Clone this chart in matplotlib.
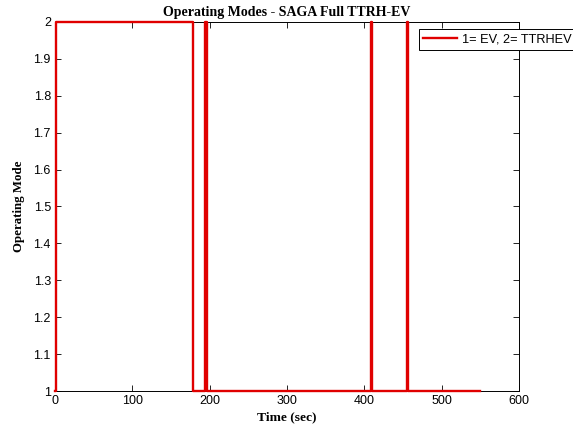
import matplotlib.pyplot as plt
from matplotlib.ticker import FuncFormatter

# mode change points (sec) and the mode held from each point on
times = [0, 1, 178, 194, 196, 409, 410, 455, 456, 550]
modes = [1, 2, 1, 2, 1, 2, 1, 2, 1, 1]

x_ticks = [0, 100, 200, 300, 400, 500, 600]
y_ticks = [1.0, 1.1, 1.2, 1.3, 1.4, 1.5, 1.6, 1.7, 1.8, 1.9, 2.0]

plt.rcParams['font.family'] = ['Liberation Sans', 'DejaVu Sans']

fig = plt.figure(figsize=(5.73, 4.37), dpi=100)
ax = fig.add_axes([0.096, 0.105, 0.81, 0.845])

ax.plot(times, modes, drawstyle='steps-post', color='#e00000', lw=1.7,
        label='1= EV, 2= TTRHEV', clip_on=False, zorder=3)

ax.set_xlim(0, 600)
ax.set_ylim(1, 2)
ax.set_xticks(x_ticks)
ax.set_yticks(y_ticks)
ax.yaxis.set_major_formatter(FuncFormatter(lambda v, p: '%g' % round(v, 1)))
ax.tick_params(direction='in', top=True, right=True, length=4, width=0.6,
               labelsize=9, pad=3)
for s in ax.spines.values():
    s.set_linewidth(0.7)

ax.set_title('Operating Modes - SAGA Full TTRH-EV', family='Liberation Serif',
             fontweight='bold', fontsize=10, pad=4)
ax.set_xlabel('Time (sec)', family='Liberation Serif', fontweight='bold',
              fontsize=9.7, labelpad=3)
ax.set_ylabel('Operating Mode', family='Liberation Serif', fontweight='bold',
              fontsize=9.3, labelpad=6)

leg = ax.legend(loc='upper left', bbox_to_anchor=(419 / 573, 1 - 29 / 437),
                bbox_transform=fig.transFigure, fontsize=9.2, handlelength=2.6,
                fancybox=False, framealpha=1, borderaxespad=0,
                borderpad=0.35, handletextpad=0.4)
leg.get_frame().set_edgecolor('black')
leg.get_frame().set_linewidth(0.7)

fig.savefig('out.png', dpi=100)
